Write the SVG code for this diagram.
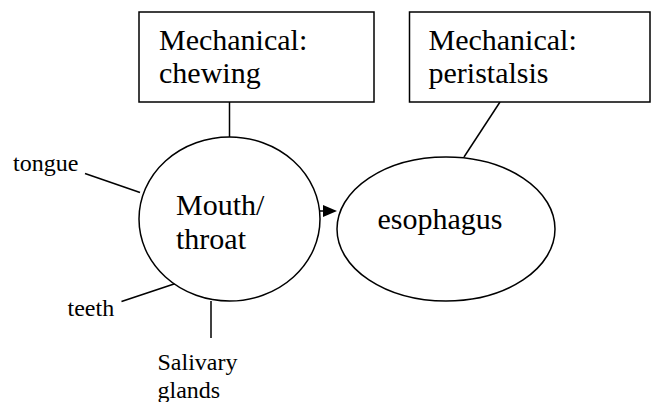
<svg xmlns="http://www.w3.org/2000/svg" width="652" height="402" viewBox="0 0 652 402">
<g id="connectors" stroke="#000" stroke-width="1.5" fill="none">
<line x1="229.5" y1="102" x2="229.5" y2="157"/>
<line x1="500" y1="102" x2="464" y2="157"/>
<line x1="85" y1="173.5" x2="140" y2="192.5"/>
<line x1="121.5" y1="301.5" x2="175.5" y2="283.5"/>
<line x1="211" y1="301" x2="211" y2="338"/>
<line x1="320" y1="211" x2="324" y2="211"/>
<polygon points="323,205 337,211 323,217" fill="#000" stroke="none"/>
</g>
<g id="chewing">
<rect x="139" y="12" width="235" height="90" fill="#fff" stroke="#000" stroke-width="1.5"/>
<text x="159" y="50" font-size="30" font-family="Liberation Serif">Mechanical:</text>
<text x="159" y="83" font-size="30" font-family="Liberation Serif">chewing</text>
</g>
<g id="peristalsis">
<rect x="409.5" y="12" width="240.5" height="90" fill="#fff" stroke="#000" stroke-width="1.5"/>
<text x="428.5" y="50" font-size="30" font-family="Liberation Serif">Mechanical:</text>
<text x="428.5" y="83" font-size="30" font-family="Liberation Serif">peristalsis</text>
</g>
<g id="mouth">
<ellipse cx="229.5" cy="219" rx="90.5" ry="82" fill="#fff" stroke="#000" stroke-width="1.5"/>
<text x="176" y="215" font-size="30" font-family="Liberation Serif">Mouth/</text>
<text x="176" y="249" font-size="30" font-family="Liberation Serif">throat</text>
</g>
<g id="esophagus">
<ellipse cx="446" cy="229" rx="109" ry="72" fill="#fff" stroke="#000" stroke-width="1.5"/>
<text x="377.5" y="229" font-size="30" font-family="Liberation Serif">esophagus</text>
</g>
<g id="tongue"><text x="13" y="171" font-size="24" font-family="Liberation Serif">tongue</text></g>
<g id="teeth"><text x="67.5" y="316" font-size="24" font-family="Liberation Serif">teeth</text></g>
<g id="salivary">
<text x="157.5" y="370" font-size="24" font-family="Liberation Serif">Salivary</text>
<text x="157.5" y="398" font-size="24" font-family="Liberation Serif">glands</text>
</g>
</svg>
